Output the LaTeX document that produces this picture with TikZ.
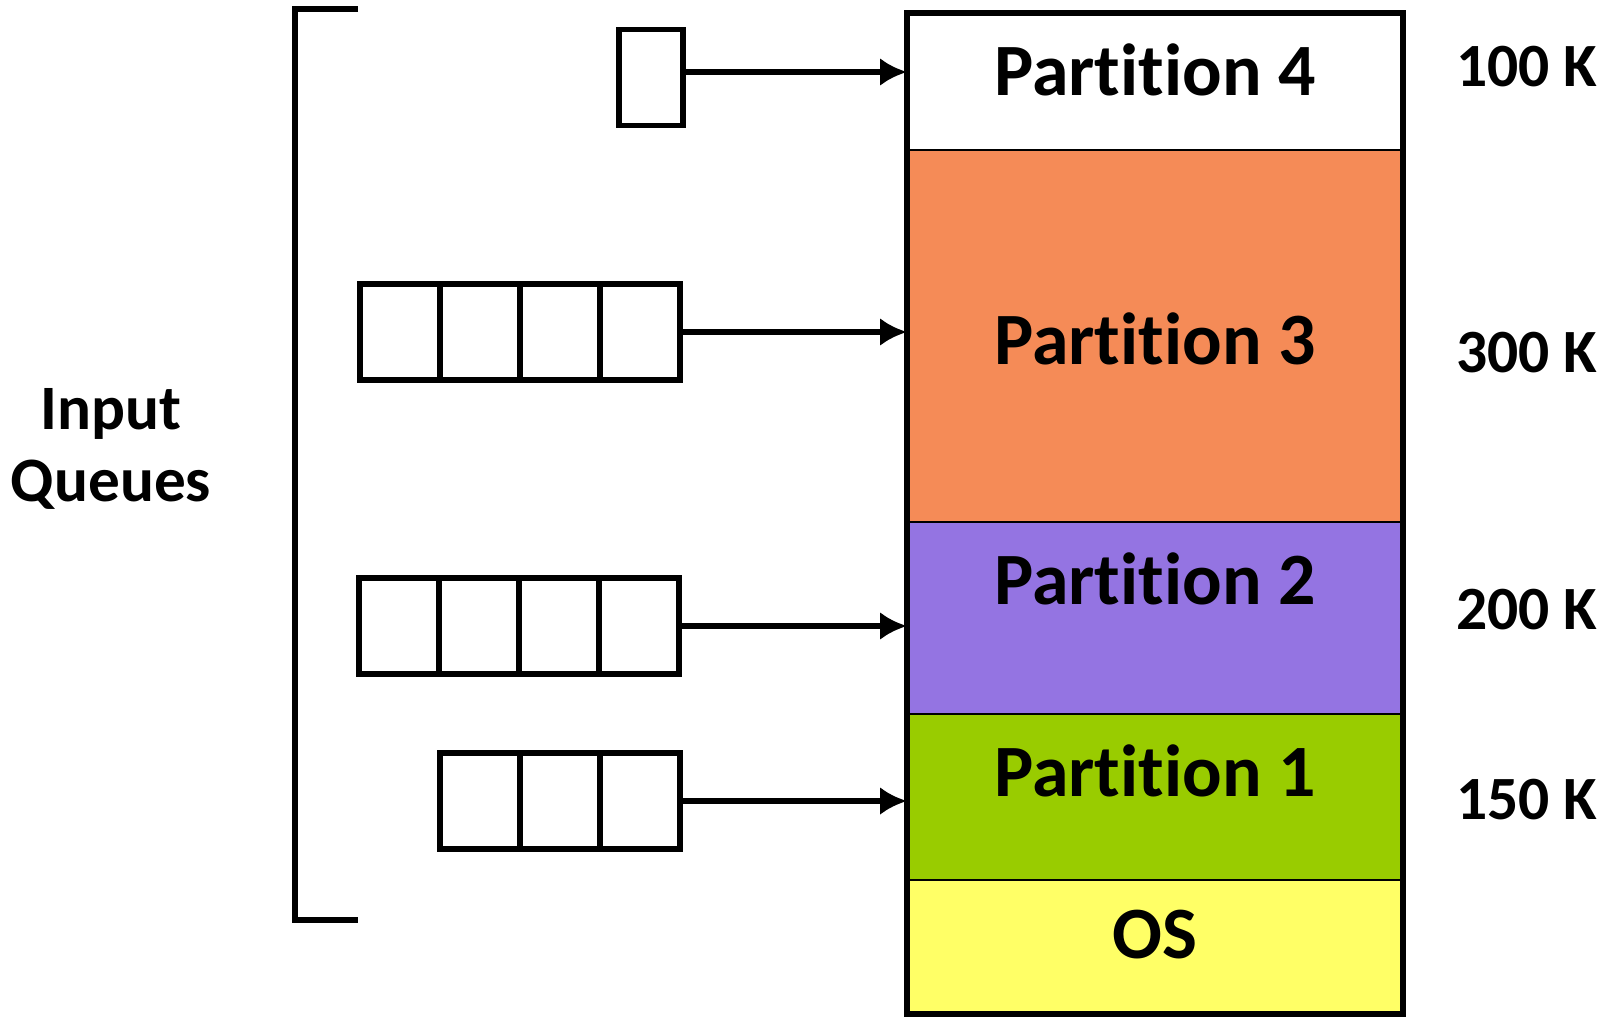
\documentclass[tikz,border=0pt]{standalone}
\usepackage{fontspec}
\setmainfont{Carlito}[RawFeature={-liga;-clig;-dlig;-calt}]
\usetikzlibrary{arrows.meta}
\definecolor{partorange}{RGB}{245,139,87}
\definecolor{partpurple}{RGB}{148,116,226}
\definecolor{partgreen}{RGB}{153,204,0}
\definecolor{partyellow}{RGB}{255,255,102}
\tikzset{
	part/.style={draw, line width=0.6pt, minimum width=4.96cm, inner sep=0pt, outer sep=0pt},
	cell/.style={draw, line width=1.5pt, minimum width=0.8cm, minimum height=0.96cm, inner sep=0pt, outer sep=0pt},
	feed/.style={-{Latex[length=0.27cm,width=0.28cm]}, line width=1.8pt},
	bigtext/.style={font=\fontsize{21}{25}\selectfont\bfseries},
	sizetext/.style={font=\fontsize{17.5}{21}\selectfont\bfseries}
}
\begin{document}
\begin{tikzpicture}[x=1cm, y=-1cm, line join=miter]
	\useasboundingbox (0,0) rectangle (16.12,10.16);
	% memory partitions
	\node[part, fill=white, minimum height=1.37cm] (p4) at (11.55,0.815) {};
	\node[part, fill=partorange, minimum height=3.72cm] (p3) at (11.55,3.36) {};
	\node[part, fill=partpurple, minimum height=1.92cm] (p2) at (11.55,6.18) {};
	\node[part, fill=partgreen, minimum height=1.66cm] (p1) at (11.55,7.97) {};
	\node[part, fill=partyellow, minimum height=1.34cm] (os) at (11.55,9.47) {};
	\draw[line width=1.5pt] (p4.north west) rectangle (os.south east);
	\node[bigtext] (t4) at (11.55,0.70) {Partition 4};
	\node[bigtext] (t3) at (11.55,3.39) {Partition 3};
	\node[bigtext] (t2) at (11.55,5.79) {Partition 2};
	\node[bigtext] (t1) at (11.55,7.71) {Partition 1};
	\node[bigtext] (tos) at (11.55,9.35) {OS};
	% sizes
	\node[sizetext] (s4) at (15.27,0.67) {100 K};
	\node[sizetext] (s3) at (15.27,3.53) {300 K};
	\node[sizetext] (s2) at (15.27,6.10) {200 K};
	\node[sizetext] (s1) at (15.27,8.00) {150 K};
	% queues
	\node[cell, minimum width=0.64cm] (q4) at (6.51,0.775) {};
	\foreach \i in {1,...,4} \node[cell] (q3\i) at ({3.20+0.8*\i},3.32) {};
	\foreach \i in {1,...,4} \node[cell] (q2\i) at ({3.19+0.8*\i},6.26) {};
	\foreach \i in {1,...,3} \node[cell] (q1\i) at ({4.00+0.8*\i},8.01) {};
	\draw[feed] ([yshift=0.055cm]q4.east) -- ([yshift=0.055cm]q4.east -| p4.west);
	\draw[feed] (q34.east) -- (q34.east -| p3.west);
	\draw[feed] (q24.east) -- (q24.east -| p2.west);
	\draw[feed] (q13.east) -- (q13.east -| p1.west);
	% bracket
	\draw[line width=1.5pt] (3.58,0.09) -- (2.95,0.09) -- (2.95,9.20) -- (3.58,9.20);
	\node[font=\fontsize{18}{20.7}\selectfont\bfseries, align=center] (iq) at (1.11,4.49) {Input\\Queues};
\end{tikzpicture}
\end{document}
